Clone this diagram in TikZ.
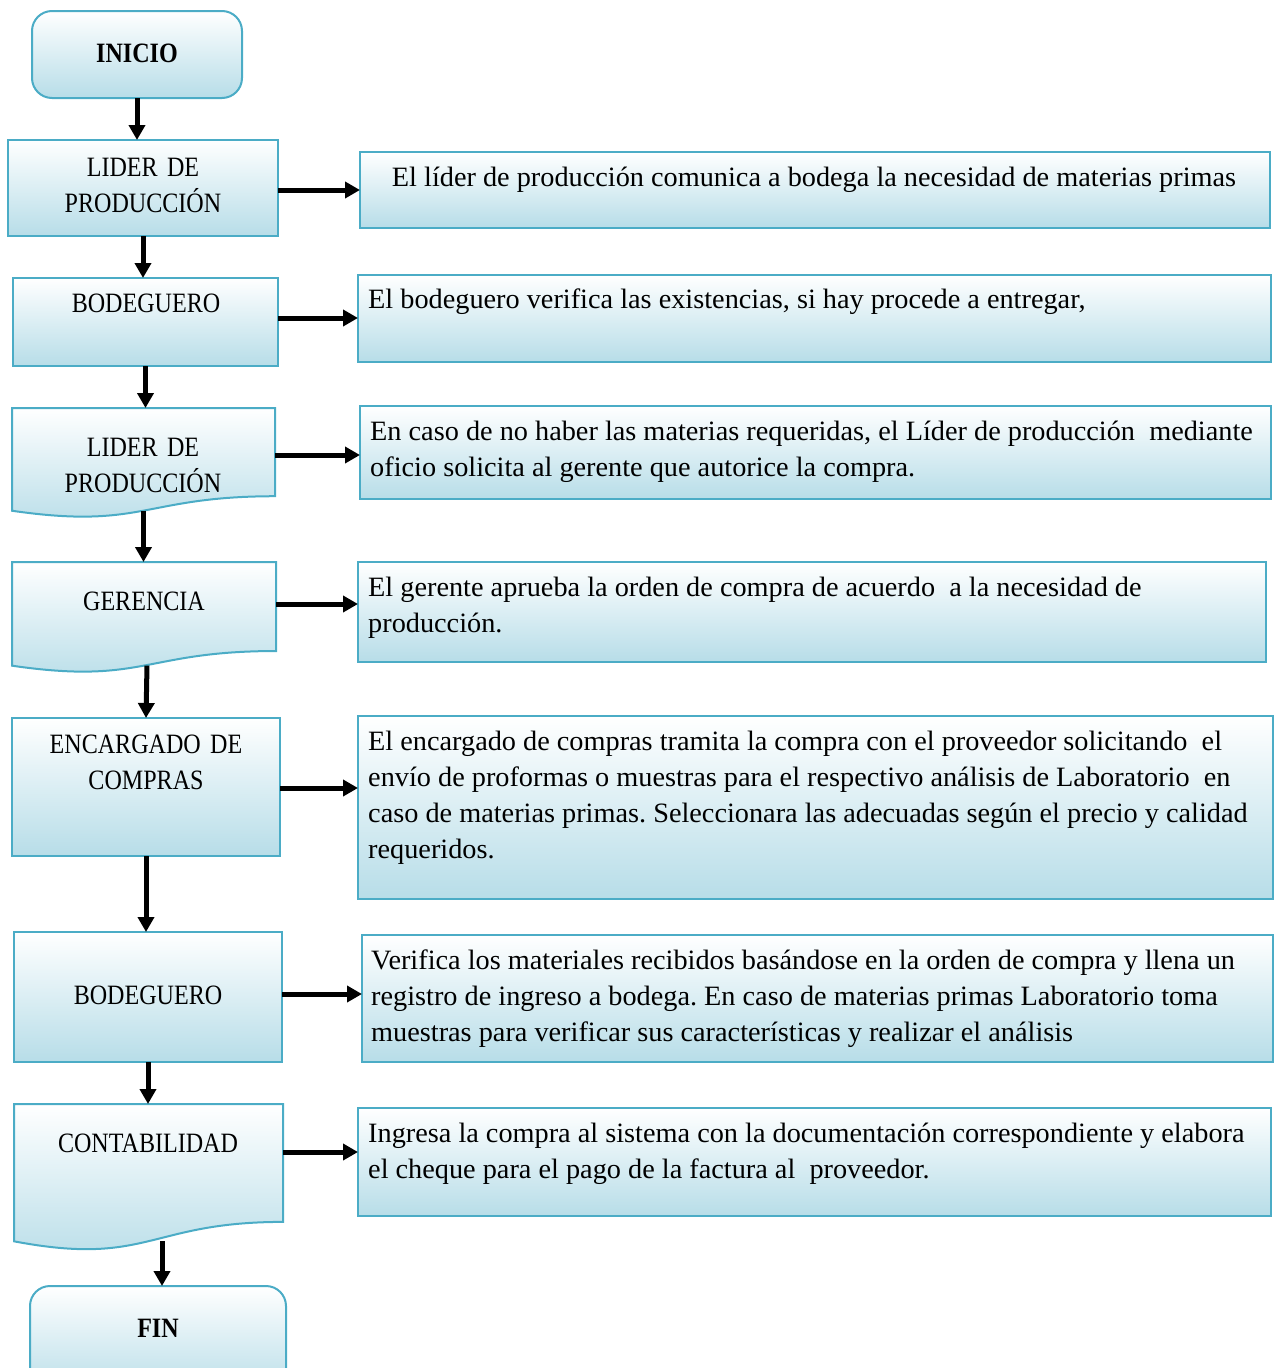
\documentclass[tikz,border=0pt]{standalone}
\usepackage{fontspec}
\setmainfont{Liberation Serif}[FakeStretch=1.01]
\newfontfamily\labelfont{Liberation Serif}[FakeStretch=0.86,WordSpace=0.88]
\usetikzlibrary{arrows.meta,calc}
\definecolor{boxline}{RGB}{75,172,198}
\definecolor{boxfill}{RGB}{183,221,232}

% wavy "document" outline drawn inside the frame of node #1
\newcommand\docshape[1]{%
  \shadedraw[shaded] (#1.north west) -- (#1.north east)
    -- ($(#1.north east)!0.802!(#1.south east)$)
    .. controls ($(#1.north)!0.802!(#1.south)$) and ($(#1.north)!1.108!(#1.south)$)
    .. ($(#1.north west)!0.934!(#1.south west)$) -- cycle;}

\begin{document}
\frenchspacing
\begin{tikzpicture}[x=1pt,y=-1pt,
  font=\fontsize{28}{36}\selectfont,
  shaded/.style={draw=boxline, line width=2pt, top color=white, bottom color=boxfill},
  frame/.style 2 args={rectangle, anchor=north west, inner sep=0pt, outer sep=0pt,
    minimum width=#1pt, minimum height=#2pt},
  box/.style 2 args={frame={#1}{#2}, shaded},
  term/.style 2 args={frame={#1}{#2}, shaded, rounded corners=20pt},
  lbl/.style={font=\labelfont\fontsize{28}{36}\selectfont, text width=262pt,
    align=center, anchor=base, inner sep=0pt},
  desc/.style={text width=905pt, align=flush left, anchor=base west, inner sep=0pt},
  arr/.style={line width=5pt, -{Triangle[length=15pt,width=16pt]}}]

\useasboundingbox (0,0) rectangle (1277,1368);

% left column: steps
\node[term={210}{87}] (inicio) at (32,11) {};
\node[box={270}{96}]  (b1) at (8,140) {};
\node[box={265}{88}]  (b2) at (13,278) {};
\node[frame={263}{110}] (b3) at (12,408) {};
\docshape{b3}
\node[frame={264}{111}] (b4) at (12,562) {};
\docshape{b4}
\node[box={268}{138}] (b5) at (12,718) {};
\node[box={268}{130}] (b6) at (14,932) {};
\node[frame={269}{147}] (b7) at (14,1104) {};
\docshape{b7}
\node[term={256}{110}] (fin) at (30,1286) {};

\node[lbl] (tinicio) at (137,62) {\bfseries INICIO};
\node[lbl] (t1) at (143,176) {LIDER DE\\PRODUCCIÓN};
\node[lbl] (t2) at (146,312) {BODEGUERO};
\node[lbl] (t3) at (143,456) {LIDER DE\\PRODUCCIÓN};
\node[lbl] (t4) at (144,610) {GERENCIA};
\node[lbl] (t5) at (146,753) {ENCARGADO DE\\COMPRAS};
\node[lbl] (t6) at (148,1004) {BODEGUERO};
\node[lbl] (t7) at (148,1152) {CONTABILIDAD};
\node[lbl] (tfin) at (158,1337) {\bfseries FIN};

% right column: descriptions
\node[box={910}{76}]  (d1) at (360,152) {};
\node[box={913}{87}]  (d2) at (358,275) {};
\node[box={911}{93}]  (d3) at (360,406) {};
\node[box={908}{100}] (d4) at (358,562) {};
\node[box={915}{183}] (d5) at (358,716) {};
\node[box={911}{127}] (d6) at (362,935) {};
\node[box={913}{108}] (d7) at (358,1108) {};

\node[anchor=base, inner sep=0pt] (s1) at (814,186)
  {El líder de producción comunica a bodega la necesidad de materias primas};
\node[desc] (s2) at (368,308)
  {El bodeguero verifica las existencias, si hay procede a entregar,};
\node[desc] (s3) at (370,440)
  {En caso de no haber las materias requeridas, el Líder de producción\ \ mediante\\
   oficio solicita al gerente que autorice la compra.};
\node[desc] (s4) at (368,596)
  {El gerente aprueba la orden de compra de acuerdo\ \ a la necesidad de\\
   producción.};
\node[desc] (s5) at (368,750)
  {El encargado de compras tramita la compra con el proveedor solicitando\ \ el\\
   envío de proformas o muestras para el respectivo análisis de Laboratorio\ \ en\\
   caso de materias primas. Seleccionara las adecuadas según el precio y calidad\\
   requeridos.};
\node[desc] (s6) at (371,969)
  {Verifica los materiales recibidos basándose en la orden de compra y llena un\\
   registro de ingreso a bodega. En caso de materias primas Laboratorio toma\\
   muestras para verificar sus características y realizar el análisis};
\node[desc] (s7) at (368,1142)
  {Ingresa la compra al sistema con la documentación correspondiente y elabora\\
   el cheque para el pago de la factura al\ \ proveedor.};

% points on the wavy lower edges where the down arrows leave
\coordinate (w3) at ($(b3.north)!0.933!(b3.south)$);
\coordinate (w4) at ($(b4.north)!0.933!(b4.south)+(3,0)$);
\coordinate (w7) at ($(b7.north)!0.933!(b7.south)+(13.5,0)$);

% flow downwards
\draw[arr] (inicio.south) -- (inicio.south |- b1.north);
\draw[arr] (b1.south) -- (b1.south |- b2.north);
\draw[arr] (b2.south) -- (b2.south |- b3.north);
\draw[arr] (w3) -- (w3 |- b4.north);
\draw[arr] (w4) -- (b5.north);
\draw[arr] (b5.south) -- (b5.south |- b6.north);
\draw[arr] (b6.south) -- (b6.south |- b7.north);
\draw[arr] (w7) -- (w7 |- fin.north);

% each step to its description
\draw[arr] ([yshift=-2pt]b1.east) -- ([yshift=-2pt]b1.east -| d1.west);
\draw[arr] ([yshift=4pt]b2.east) -- ([yshift=4pt]b2.east -| d2.west);
\draw[arr] ([yshift=8pt]b3.east) -- ([yshift=8pt]b3.east -| d3.west);
\draw[arr] ([yshift=13.5pt]b4.east) -- ([yshift=13.5pt]b4.east -| d4.west);
\draw[arr] ([yshift=-1pt]b5.east) -- ([yshift=-1pt]b5.east -| d5.west);
\draw[arr] ([yshift=3pt]b6.east) -- ([yshift=3pt]b6.east -| d6.west);
\draw[arr] ([yshift=25.5pt]b7.east) -- ([yshift=25.5pt]b7.east -| d7.west);
\end{tikzpicture}
\end{document}
